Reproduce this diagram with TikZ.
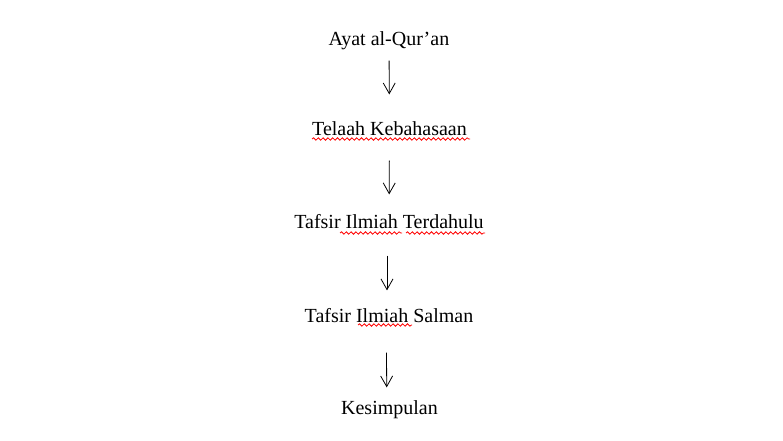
\documentclass[tikz,border=0pt]{standalone}
\usepackage{fontspec}
\setmainfont{Liberation Serif}
\usetikzlibrary{positioning, arrows.meta, decorations.pathmorphing}
\tikzset{
  % px grid of the page
  x=0.75pt, y=-0.75pt,
  step box/.style={
    inner sep=0pt, anchor=base, font=\fontsize{15}{18}\selectfont,
    text height=0.7em, text depth=0.25em
  },
  flow/.style={-{Straight Barb[length=8pt,width=9pt]}, line width=0.6pt},
  squiggle/.style={draw=red, line width=0.6pt,
    decorate, decoration={snake, amplitude=0.9pt, segment length=3.6pt}}
}

\begin{document}
\begin{tikzpicture}
    \useasboundingbox (0,0) rectangle (783,441);

    \node[step box] (ayat) at (389,46) {Ayat al-Qur’an};
    \node[step box] (telaah) at (389.5,136) {Telaah Kebahasaan};
    \node[step box] (dulu) at (389,229) {Tafsir Ilmiah Terdahulu};
    \node[step box] (salman) at (389,323) {Tafsir Ilmiah Salman};
    \node[step box] (simpul) at (389.5,415) {Kesimpulan};

    \draw[flow, shorten <=11pt*0.75, shorten >=32pt*0.75]  (ayat)   -- (telaah);
    \draw[flow, shorten <=21pt*0.75, shorten >=25pt*0.75]  (telaah) -- (dulu);
    \draw[flow, shorten <=23pt*0.75, shorten >=23pt*0.75]
                ([xshift=-1.5pt]dulu.south) -- ([xshift=-1.5pt]salman.north);
    \draw[flow, shorten <=26pt*0.75, shorten >=18pt*0.75]
                ([xshift=-2pt]salman.south) -- ([xshift=-2pt]simpul.north);

    % spelling marks
    \draw[squiggle] (312,139) -- (470,139);
    \draw[squiggle] (340,233) -- (402,233);
    \draw[squiggle] (406,233) -- (485,233);
    \draw[squiggle] (358,325) -- (412,325);

  \end{tikzpicture}
\end{document}
